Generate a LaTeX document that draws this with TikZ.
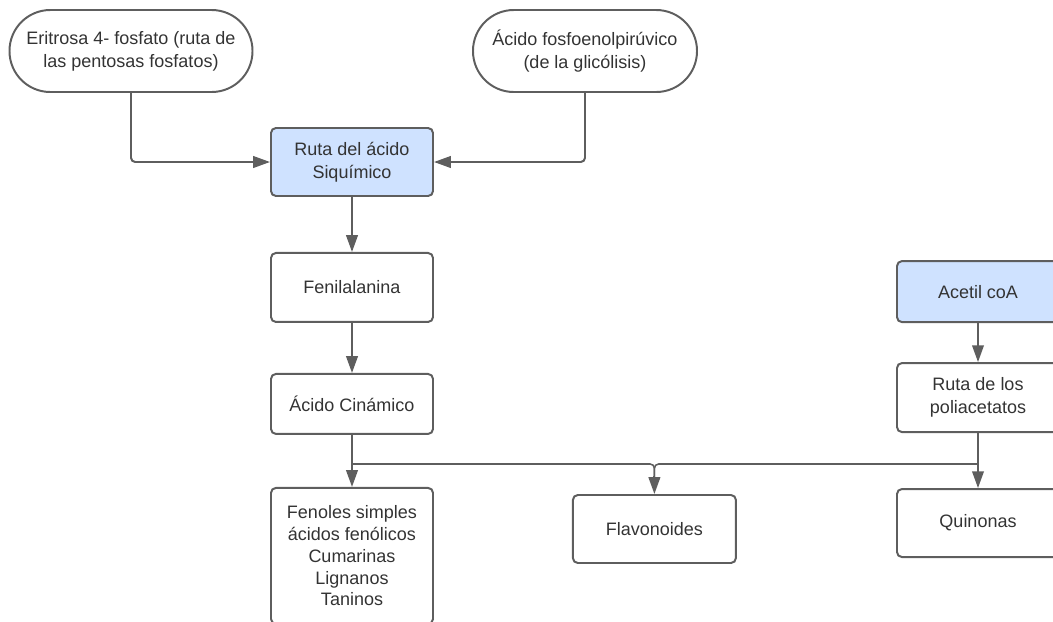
\documentclass[tikz,border=0pt]{standalone}
\usepackage{fontspec}
\setmainfont{Liberation Sans}
\usetikzlibrary{arrows.meta, positioning, calc}
\definecolor{edgecol}{RGB}{94, 94, 94}
\definecolor{textcol}{RGB}{51, 51, 51}
\definecolor{routecol}{RGB}{207, 226, 255}

\begin{document}
\begin{tikzpicture}[
        box/.style={rectangle, draw=edgecol, line width=1.4pt, rounded corners=3.5pt, align=center, text=textcol, minimum height=1.7cm, minimum width=4.05cm, font=\fontsize{12.8}{16.3}\selectfont, inner sep=2pt},
        pill/.style={box, rounded corners=1.02cm, minimum height=2.05cm},
        arrow/.style={-{Triangle[length=0.42cm, width=0.29cm]}, draw=edgecol, line width=1.4pt},
        link/.style={draw=edgecol, line width=1.1pt, rounded corners=3pt}
    ]
    \path[use as bounding box] (0,0) rectangle (26.325,-15.525);
    \clip (0,0) rectangle (26.325,-15.525);

    % Sources
    \node[pill, minimum width=6.075cm] (eritrosa) at (3.275,-1.275) {Eritrosa 4- fosfato (ruta de\\las pentosas fosfatos)};
    \node[pill, minimum width=5.6cm] (fosfo) at (14.625,-1.275) {Ácido fosfoenolpirúvico\\(de la glicólisis)};

    % Shikimic branch
    \node[box, fill=routecol] (siquimico) at (8.8,-4.05) {Ruta del ácido\\Siquímico};
    \node[box, below=1.375cm of siquimico, minimum height=1.725cm] (fenil) {Fenilalanina};
    \node[box, below=1.25cm of fenil, minimum height=1.5cm] (cinamico) {Ácido Cinámico};
    \node[box, below=1.3cm of cinamico, minimum height=3.4cm, font=\fontsize{12.8}{15.5}\selectfont] (fenoles) {Fenoles simples\\ácidos fenólicos\\Cumarinas\\Lignanos\\Taninos};

    % Acetate branch
    \node[box, fill=routecol, minimum height=1.525cm] (acetil) at (24.45,-7.29) {Acetil coA};
    \node[box, below=0.975cm of acetil, minimum height=1.725cm] (polia) {Ruta de los\\poliacetatos};
    \node[box, below=1.375cm of polia] (quinonas) {Quinonas};

    % Common product
    \node[box, minimum width=4.075cm] (flavo) at (16.36,-13.225) {Flavonoides};

    % Junctions
    \coordinate (jl) at (cinamico.south |- 0,-11.6);
    \coordinate (jr) at (polia.south |- 0,-11.6);

    % Arrows
    \draw[arrow, rounded corners=3pt] (eritrosa.south) |- (siquimico.west);
    \draw[arrow, rounded corners=3pt] (fosfo.south) |- (siquimico.east);
    \draw[arrow] (siquimico) -- (fenil);
    \draw[arrow] (fenil) -- (cinamico);
    \draw[arrow] (cinamico) -- (fenoles);
    \draw[arrow] (acetil) -- (polia);
    \draw[arrow] (polia) -- (quinonas);

    \draw[link] (jl) -| ($(flavo.north)+(0,0.4)$);
    \draw[link] (jr) -| ($(flavo.north)+(0,0.4)$);
    \draw[arrow] ($(flavo.north)+(0,0.45)$) -- (flavo.north);

\end{tikzpicture}
\end{document}
